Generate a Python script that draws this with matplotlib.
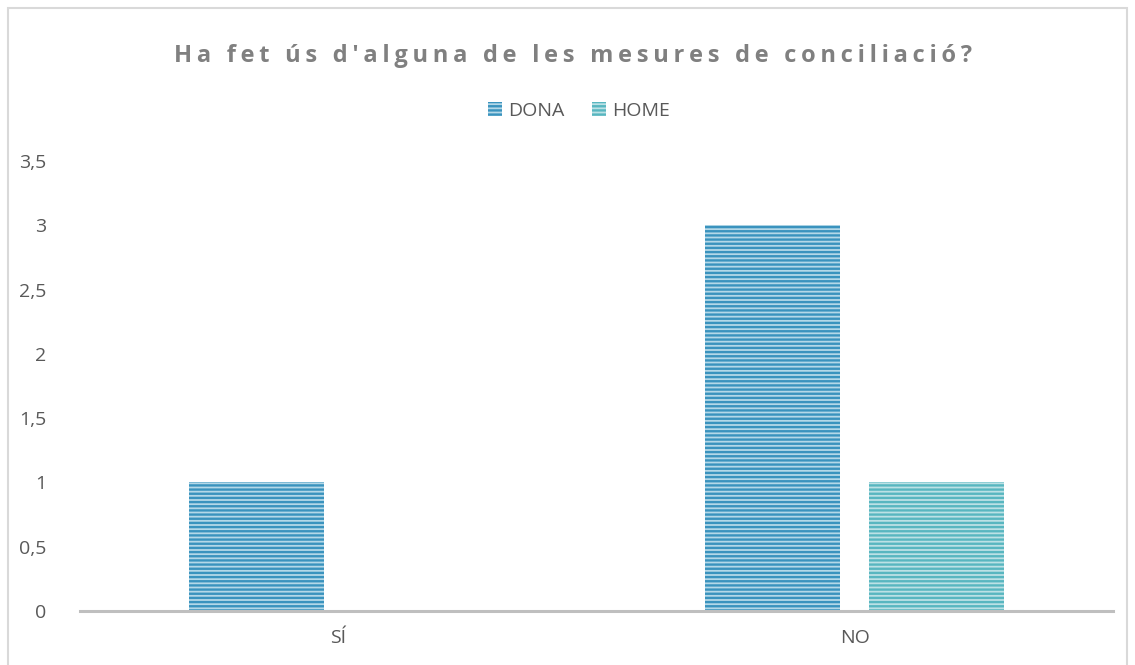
import numpy as np
import matplotlib.pyplot as plt
from matplotlib.patches import Rectangle

categories = ['SÍ', 'NO']
dona = [1, 3]
home = [0, 1]
yticks = [0, 0.5, 1, 1.5, 2, 2.5, 3, 3.5]
ytick_labels = ['0', '0,5', '1', '1,5', '2', '2,5', '3', '3,5']
title = "Ha fet ús d'alguna de les mesures de conciliació?"

plt.rcParams['font.family'] = ['Open Sans', 'DejaVu Sans']
plt.rcParams['hatch.linewidth'] = 1.7

fig = plt.figure(figsize=(11.35, 6.65), dpi=100)
ax = fig.add_axes([0.0705, 0.0812, 0.9101, 0.6768])

# outer chart border
fig.patches.append(Rectangle((8 / 1135, -0.01), 1119 / 1135, 1 - 8 / 665 + 0.01,
                             transform=fig.transFigure, fill=False,
                             edgecolor='#D9D9D9', linewidth=1.5))

x = np.arange(len(categories))
w = 0.261
off = 0.159
ax.bar(x - off, dona, w, color='#B4D8E8', edgecolor='#3A93BE', hatch='----',
       linewidth=0, label='DONA')
ax.bar(x + off, home, w, color='#BCE1E5', edgecolor='#58B6C0', hatch='----',
       linewidth=0, label='HOME')

ax.set_xlim(-0.5, 1.5)
ax.set_ylim(0, 3.5)
ax.set_yticks(yticks)
ax.set_yticklabels(ytick_labels)
ax.set_xticks(x)
ax.set_xticklabels(categories)
ax.tick_params(axis='both', length=0, labelsize=14, labelcolor='#595959')
ax.tick_params(axis='y', pad=24)
ax.tick_params(axis='x', pad=13)
for s in ['top', 'right', 'left']:
    ax.spines[s].set_visible(False)
ax.spines['bottom'].set_color('#BFBFBF')
ax.spines['bottom'].set_linewidth(2.2)

fig.text(0.505, 1 - 56 / 665, '\u2009'.join(title), ha='center', va='center',
         fontsize=17, fontweight='bold', color='#808080')

fig.legend(loc='center', bbox_to_anchor=(0.51, 1 - 111 / 665), ncol=2, frameon=False,
           fontsize=14, labelcolor='#595959', handlelength=0.75, handleheight=0.75,
           handletextpad=0.3, columnspacing=1.4)

fig.savefig('out.png', dpi=100)
